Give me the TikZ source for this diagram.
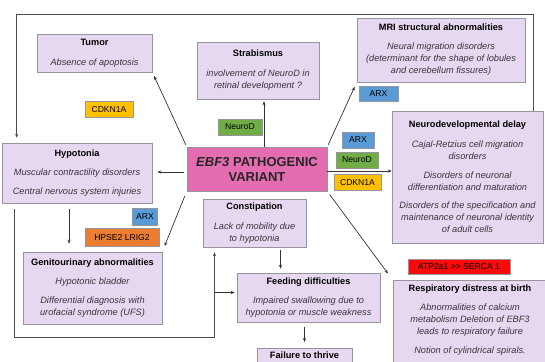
\documentclass[tikz,border=0pt]{standalone}
\usepackage{fontspec}
\setmainfont{Liberation Sans}
\usetikzlibrary{arrows.meta}
\definecolor{boxfill}{RGB}{230,216,240}
\definecolor{boxline}{RGB}{150,148,156}
\definecolor{ebfpink}{RGB}{228,108,176}
\definecolor{arxblue}{RGB}{91,155,213}
\definecolor{neurogreen}{RGB}{112,173,71}
\definecolor{cdkyellow}{RGB}{255,192,0}
\definecolor{hpseorange}{RGB}{237,125,49}
\definecolor{atpred}{RGB}{250,10,10}
\definecolor{notegray}{RGB}{55,55,60}
\newcommand{\boxtitle}[1]{{\bfseries #1}}
\newcommand{\boxnote}[1]{{\itshape\color{notegray}#1}}

\begin{document}
\begin{tikzpicture}[line width=0.7pt, >={Stealth[length=4pt,width=3.2pt]}, x=1pt, y=-1pt,
  effect/.style={draw=boxline, fill=boxfill, line width=0.6pt, align=center, inner sep=0pt,
    font=\fontsize{9.2}{12}\selectfont},
  gene/.style={draw=boxline, line width=0.5pt, inner sep=0pt, minimum height=16pt,
    font=\fontsize{8.6}{10}\selectfont},
  arr/.style={->, draw=black!80}]
  \useasboundingbox (0,0) rectangle (545,361);
  \clip (0,0) rectangle (545,361);

  \node[draw=boxline, fill=ebfpink, line width=0.6pt, minimum width=140pt, minimum height=44pt,
    align=center, font=\bfseries\fontsize{13}{15}\selectfont, text=black!85] (ebf) at (257,169)
    {\textit{EBF3} PATHOGENIC\\VARIANT};

  \node[effect, minimum width=115pt, minimum height=38pt] (tumor) at (94.5,53)
    {\boxtitle{Tumor}\\[8pt]\boxnote{Absence of apoptosis}};
  \node[effect, minimum width=122pt, minimum height=57pt] (strab) at (258,70.5)
    {\boxtitle{Strabismus}\\[8pt]\boxnote{involvement of NeuroD in}\\\boxnote{retinal development ?}};
  \node[effect, minimum width=168pt, minimum height=64pt] (mri) at (441,50)
    {\boxtitle{MRI structural abnormalities}\\[7pt]\boxnote{Neural migration disorders}\\
     \boxnote{(determinant for the shape of lobules}\\\boxnote{and cerebellum fissures)}};
  \node[effect, minimum width=151pt, minimum height=132pt] (neuro) at (467.5,177)
    {\boxtitle{Neurodevelopmental delay}\\[8pt]\boxnote{Cajal-Retzius cell migration}\\
     \boxnote{disorders}\\[6.5pt]\boxnote{Disorders of neuronal}\\
     \boxnote{differentiation and maturation}\\[6.5pt]\boxnote{Disorders of the specification and}\\
     \boxnote{maintenance of neuronal identity}\\\boxnote{of adult cells}};
  \node[effect, minimum width=150pt, minimum height=60pt] (hypo) at (77,173)
    {\boxtitle{Hypotonia}\\[7pt]\boxnote{Muscular contractility disorders}\\[7pt]
     \boxnote{Central nervous system injuries}};
  \node[effect, minimum width=103pt, minimum height=48pt] (const) at (254.5,223)
    {\boxtitle{Constipation}\\[8pt]\boxnote{Lack of mobility due}\\\boxnote{to hypotonia}};
  \node[effect, minimum width=139pt, minimum height=72pt] (geni) at (92.5,288)
    {\boxtitle{Genitourinary abnormalities}\\[7pt]\boxnote{Hypotonic bladder}\\[7pt]
     \boxnote{Differential diagnosis with}\\\boxnote{urofacial syndrome (UFS)}};
  \node[effect, minimum width=143pt, minimum height=49pt] (feed) at (308.5,297.5)
    {\boxtitle{Feeding difficulties}\\[7pt]\boxnote{Impaired swallowing due to}\\
     \boxnote{hypotonia or muscle weakness}};
  \node[effect, anchor=north, minimum width=95pt, minimum height=30pt, inner ysep=4pt] (fail)
    at (304.5,348) {\boxtitle{Failure to thrive}\\[9pt]};
  \node[effect, anchor=north, minimum width=154pt, inner ysep=5pt] (resp) at (470,280)
    {\boxtitle{Respiratory distress at birth}\\[7pt]\boxnote{Abnormalities of calcium}\\
     \boxnote{metabolism Deletion of EBF3}\\\boxnote{leads to respiratory failure}\\[6.5pt]
     \boxnote{Notion of cylindrical spirals.}\\[8pt]};

  \node[gene, fill=cdkyellow, minimum width=48pt] (cdka) at (109,109.5) {CDKN1A};
  \node[gene, fill=neurogreen, minimum width=44pt] (neurda) at (240,127) {NeuroD};
  \node[gene, fill=arxblue, minimum width=39pt, minimum height=15pt] (arxa) at (378.5,93.5) {ARX};
  \node[gene, fill=arxblue, minimum width=32pt] (arxb) at (358,140) {ARX};
  \node[gene, fill=neurogreen, minimum width=42pt] (neurdb) at (357,160) {NeuroD};
  \node[gene, fill=cdkyellow, minimum width=47pt] (cdkb) at (357.5,182.5) {CDKN1A};
  \node[gene, fill=arxblue, minimum width=25pt, minimum height=17pt] (arxc) at (145,216.5) {ARX};
  \node[gene, fill=hpseorange, minimum width=74pt, minimum height=18pt] (hpse) at (122,237.5)
    {HPSE2 LRIG2};
  \node[gene, fill=atpred, minimum width=102pt, minimum height=15pt] (atp) at (459,266.5)
    {ATP2a1 {>}{>} SERCA 1};

  \coordinate (frametop) at (0,14);
  \coordinate (framebot) at (0,337);
  \coordinate (neuroout) at ([xshift=-10pt]neuro.north east);
  \coordinate (hypoin) at ([xshift=15pt]hypo.north west);
  \coordinate (hypoout) at ([xshift=13pt]hypo.south west);
  \coordinate (hypodown) at ([xshift=-8pt]hypo.south);
  \coordinate (constin) at ([xshift=-40pt]const.south);
  \coordinate (constout) at ([xshift=26pt]const.south);
  \coordinate (feedin) at ([yshift=5pt]feed.west);
  \coordinate (ebfup) at ([xshift=7pt]ebf.north);
  \coordinate (ebfleft) at ([yshift=-3pt]ebf.west);
  \coordinate (ebfright) at ([yshift=-2pt]ebf.east);

  \draw[arr, shorten <=2pt, shorten >=4pt] (ebf.north west) -- (tumor.south east);
  \draw[arr, shorten >=2pt] (ebfup) -- (ebfup |- strab.south);
  \draw[arr, shorten <=2pt, shorten >=5pt] (ebf.north east) -- (mri.south west);
  \draw[arr, shorten <=3pt, shorten >=5pt] (ebfleft) -- (ebfleft -| hypo.east);
  \draw[arr, shorten <=5pt, shorten >=6pt] (ebf.south west) -- (geni.north east);
  \draw[arr] (ebfright) -- (ebfright -| neuro.west);
  \draw[arr, shorten <=4pt, shorten >=8pt] (ebf.south east) -- (resp.north west);
  \draw[arr, shorten <=3pt, shorten >=4pt] (constout) -- (constout |- feed.north);
  \draw[arr, shorten <=5pt, shorten >=6pt] (feed.south -| fail.north) -- (fail.north);
  \draw[arr, line width=0.9pt, draw=black!70, shorten >=5pt] (neuroout) |- (hypoin |- frametop) -- (hypoin);
  \draw[arr, shorten <=6pt, shorten >=8pt] (hypodown) -- (hypodown |- geni.north);
  \draw[arr, line width=0.9pt, draw=black!70, shorten <=6pt, shorten >=5pt]
    (hypoout) |- (constin |- framebot) -- (constin);
  \draw[arr, shorten >=2pt] (constin |- feedin) -- (feedin);
\end{tikzpicture}
\end{document}
